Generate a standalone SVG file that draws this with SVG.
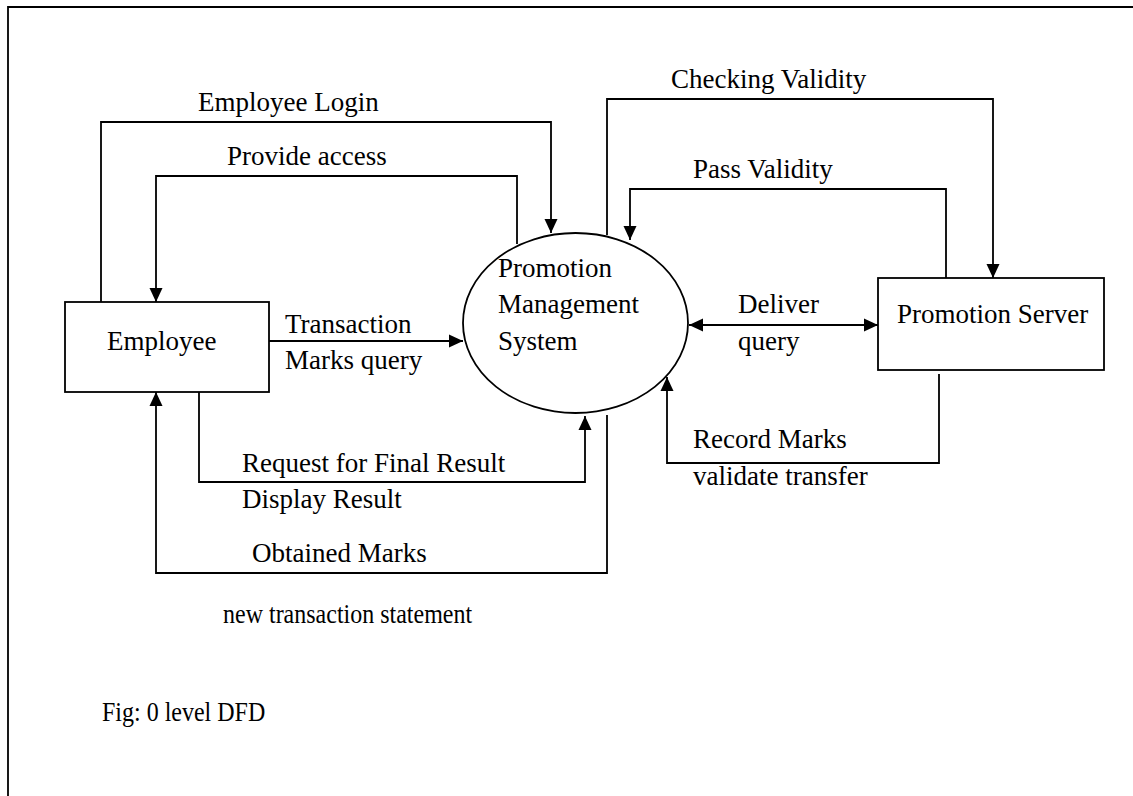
<svg xmlns="http://www.w3.org/2000/svg" width="1133" height="796" viewBox="0 0 1133 796">
  <style>
    .line { fill: none; stroke: #000; stroke-width: 1.8; }
    .shape { fill: #fff; stroke: #000; stroke-width: 1.8; }
    .lbl { font-family: "Liberation Serif", "Times New Roman", serif; font-size: 27px; fill: #000; }
    .cap { font-family: "Liberation Serif", "Times New Roman", serif; font-size: 24px; fill: #000; }
  </style>
  <defs>
    <marker id="arrow" viewBox="0 0 14 14" refX="14" refY="7" markerWidth="14" markerHeight="14" markerUnits="userSpaceOnUse" orient="auto-start-reverse">
      <path d="M0,0.5 L14,7 L0,13.5 Z" fill="#000"/>
    </marker>
  </defs>

  <rect width="1133" height="796" fill="#fff"/>

  <!-- page frame (left and top edges only) -->
  <path class="line" d="M8,796 V7 H1133" stroke-width="2"/>

  <!-- data flows -->
  <g id="connectors">
    <!-- Employee Login -->
    <path class="line" d="M101,302 V122 H551 V233" marker-end="url(#arrow)"/>
    <!-- Provide access -->
    <path class="line" d="M517,244 V176 H156 V302" marker-end="url(#arrow)"/>
    <!-- Checking Validity -->
    <path class="line" d="M607,235 V99 H993 V278" marker-end="url(#arrow)"/>
    <!-- Pass Validity -->
    <path class="line" d="M946,278 V189 H630 V240" marker-end="url(#arrow)"/>
    <!-- Deliver query (both directions) -->
    <path class="line" d="M689,325 H878" marker-start="url(#arrow)" marker-end="url(#arrow)"/>
    <!-- Transaction / Marks query -->
    <path class="line" d="M269,341 H463" marker-end="url(#arrow)"/>
    <!-- Request for Final Result -->
    <path class="line" d="M199,392 V482 H585 V416" marker-end="url(#arrow)"/>
    <!-- Obtained Marks -->
    <path class="line" d="M607,415 V573 H156 V392" marker-end="url(#arrow)"/>
    <!-- Record Marks / validate transfer -->
    <path class="line" d="M939,374 V463 H667 V377" marker-end="url(#arrow)"/>
  </g>

  <g id="employee">
    <rect class="shape" x="65" y="302" width="204" height="90"/>
    <text class="lbl" x="107" y="350">Employee</text>
  </g>

  <g id="promotion-management-system">
    <ellipse class="shape" cx="575.5" cy="323" rx="112.5" ry="90"/>
    <text class="lbl" x="498" y="277">Promotion</text>
    <text class="lbl" x="498" y="313">Management</text>
    <text class="lbl" x="498" y="350">System</text>
  </g>

  <g id="promotion-server">
    <rect class="shape" x="878" y="278" width="226" height="92"/>
    <text class="lbl" x="897" y="323">Promotion Server</text>
  </g>

  <g id="flow-labels">
    <text class="lbl" x="198" y="111">Employee Login</text>
    <text class="lbl" x="227" y="165">Provide access</text>
    <text class="lbl" x="671" y="88">Checking Validity</text>
    <text class="lbl" x="693" y="178">Pass Validity</text>
    <text class="lbl" x="738" y="313">Deliver</text>
    <text class="lbl" x="738" y="350">query</text>
    <text class="lbl" x="285" y="333">Transaction</text>
    <text class="lbl" x="285" y="369">Marks query</text>
    <text class="lbl" x="242" y="472">Request for Final Result</text>
    <text class="lbl" x="242" y="508">Display Result</text>
    <text class="lbl" x="252" y="562">Obtained Marks</text>
    <text class="lbl" x="693" y="448">Record Marks</text>
    <text class="lbl" x="693" y="485">validate transfer</text>
    <text class="cap" transform="translate(223,623) scale(1,1.12)">new transaction statement</text>
    <text class="cap" transform="translate(102,721) scale(1,1.12)">Fig: 0 level DFD</text>
  </g>
</svg>
